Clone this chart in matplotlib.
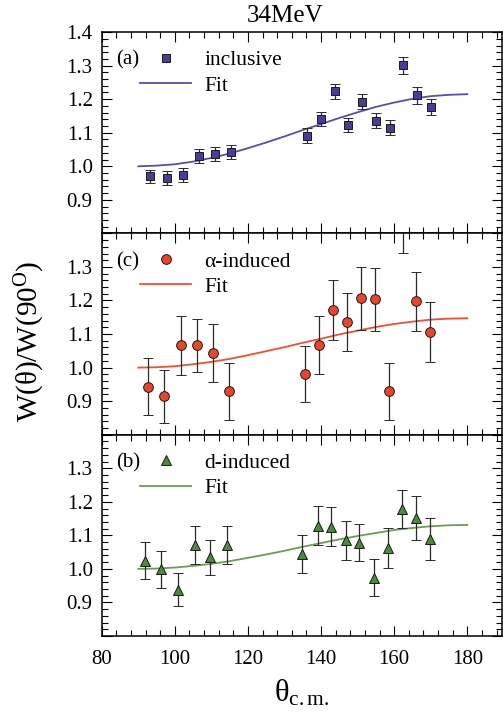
import matplotlib
matplotlib.use("Agg")
import matplotlib.pyplot as plt
from matplotlib.lines import Line2D
from matplotlib.ticker import MultipleLocator

plt.rcParams['font.family'] = ['Liberation Serif', 'DejaVu Serif']
plt.rcParams['mathtext.fontset'] = 'custom'
plt.rcParams['mathtext.rm'] = 'Liberation Serif'
plt.rcParams['mathtext.it'] = 'Liberation Serif:italic'

# data
inc_x = [93.3, 97.9, 102.2, 106.7, 111.1, 115.4, 136.1, 139.9, 143.7, 147.5, 151.3, 155.1, 158.9, 162.5, 166.3, 170.0]
inc_y = [0.970, 0.965, 0.974, 1.031, 1.036, 1.042, 1.091, 1.141, 1.223, 1.123, 1.193, 1.136, 1.115, 1.301, 1.211, 1.178]
inc_err = [0.019, 0.020, 0.020, 0.021, 0.021, 0.021, 0.022, 0.022, 0.023, 0.022, 0.023, 0.022, 0.022, 0.025, 0.024, 0.024]

alpha_x = [92.6, 97.0, 101.6, 106.0, 110.5, 114.7, 135.7, 139.5, 143.4, 147.1, 150.9, 154.7, 158.6, 162.4, 166.1, 169.9]
alpha_y = [0.943, 0.914, 1.066, 1.066, 1.043, 0.929, 0.981, 1.068, 1.172, 1.135, 1.206, 1.204, 0.929, 1.430, 1.197, 1.106]
alpha_err = [0.085, 0.078, 0.088, 0.078, 0.086, 0.086, 0.083, 0.087, 0.089, 0.086, 0.094, 0.094, 0.086, 0.089, 0.087, 0.090]

d_x = [91.8, 96.3, 100.9, 105.4, 109.5, 114.3, 134.9, 139.2, 142.8, 146.7, 150.5, 154.4, 158.3, 162.1, 166.0, 169.9]
d_y = [1.025, 0.999, 0.938, 1.071, 1.034, 1.071, 1.045, 1.129, 1.126, 1.085, 1.078, 0.974, 1.062, 1.178, 1.152, 1.089]
d_err = [0.056, 0.055, 0.050, 0.056, 0.053, 0.057, 0.057, 0.059, 0.059, 0.059, 0.055, 0.055, 0.059, 0.056, 0.065, 0.062]

fit_theta = [90, 95, 100, 105, 110, 115, 120, 125, 130, 135, 140, 145, 150, 155, 160, 165, 170, 175, 180]
fit_inc = [1.000, 1.002, 1.006, 1.014, 1.025, 1.038, 1.054, 1.071, 1.089, 1.108, 1.126, 1.144, 1.161, 1.177, 1.190, 1.201, 1.209, 1.213, 1.215]
fit_alpha = [1.000, 1.001, 1.004, 1.010, 1.017, 1.026, 1.037, 1.049, 1.061, 1.074, 1.086, 1.099, 1.110, 1.121, 1.130, 1.137, 1.143, 1.146, 1.147]
fit_d = [1.000, 1.001, 1.004, 1.009, 1.015, 1.023, 1.033, 1.043, 1.054, 1.066, 1.077, 1.088, 1.098, 1.107, 1.116, 1.122, 1.127, 1.130, 1.131]

panels = [
    # tag, label, x, y, err, fit, marker, size, face, line colour
    ("(a)", "inclusive", inc_x, inc_y, inc_err, fit_inc, "s", 5.4, "#4b3b9b", "#5a4cb0"),
    ("(c)", "α-induced", alpha_x, alpha_y, alpha_err, fit_alpha, "o", 7.0, "#e8452c", "#ee5030"),
    ("(b)", "d-induced", d_x, d_y, d_err, fit_d, "^", 7.0, "#4a8a3a", "#6a9e50"),
]

fig = plt.figure(figsize=(5.03, 7.13), dpi=100)
gs = fig.add_gridspec(3, 1, left=0.2022, right=0.998, bottom=0.108, top=0.955, hspace=0)

for i, (tag, label, x, y, err, fit, mk, ms, face, lc) in enumerate(panels):
    ax = fig.add_subplot(gs[i])
    ax.plot(fit_theta, fit, color=lc, lw=1.3, zorder=2)
    ax.errorbar(x, y, yerr=err, fmt=mk, ms=ms, mfc=face, mec="#1a1a1a", mew=0.7,
                ecolor="#2a2a2a", elinewidth=0.9, capsize=3.6, capthick=0.9, zorder=3)

    ax.set_xlim(80, 189.5)
    ax.set_ylim(0.8, 1.4)
    ax.xaxis.set_major_locator(MultipleLocator(20))
    ax.xaxis.set_minor_locator(MultipleLocator(4))
    yt = [0.8, 0.9, 1.0, 1.1, 1.2, 1.3, 1.4]
    ylab = ["", "0.9", "1.0", "1.1", "1.2", "1.3", "1.4" if i == 0 else ""]
    ax.set_yticks(yt, ylab)
    ax.yaxis.set_minor_locator(MultipleLocator(0.02))
    ax.tick_params(which="both", direction="in", top=True, right=True, labelsize=15, width=0.8)
    ax.tick_params(which="major", length=7.5)
    ax.tick_params(which="minor", length=4)
    ax.tick_params(axis="y", which="major", pad=6.5)
    ax.tick_params(axis="x", which="major", pad=10)
    if i < 2:
        ax.tick_params(axis="x", labelbottom=False)
    for s in ax.spines.values():
        s.set_linewidth(1.1)

    ax.text(0.036, 0.86, tag, transform=ax.transAxes, fontsize=15, va="center", ha="left")
    handles = [
        Line2D([], [], ls="none", marker=mk, ms=ms, mfc=face, mec="#1a1a1a", mew=0.7),
        Line2D([], [], color=lc, lw=1.3),
    ]
    ax.legend(handles, [label, "Fit"], loc="upper left", bbox_to_anchor=(0.095, 0.91),
              frameon=False, fontsize=15.5, handlelength=2.4, handletextpad=0.6,
              labelspacing=0.25, borderpad=0, borderaxespad=0)

fig.text(0.567, 0.978, "34MeV", ha="center", va="center", fontsize=18)
fig.text(0.06, 0.522, "W(θ)/W(90$^{\\mathrm{O}}$)", rotation=90, ha="center", va="center", fontsize=21)
fig.text(0.6, 0.027, "θ$_{\\mathrm{c.m.}}$", ha="center", va="center", fontsize=22)

fig.savefig("out.png", dpi=100)
